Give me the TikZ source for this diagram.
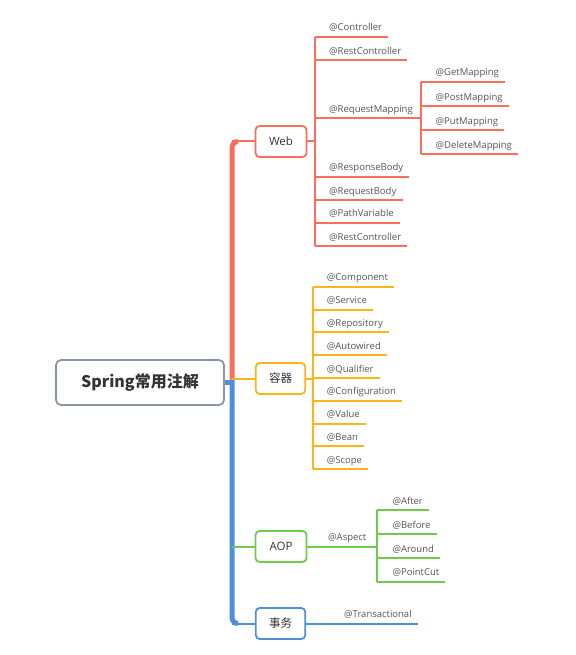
\documentclass[tikz,border=0pt]{standalone}
\usepackage{fontspec}
\setmainfont{Open Sans}
\newfontfamily\cjk{Noto Sans CJK SC}
\usetikzlibrary{calc}
\definecolor{rc}{HTML}{FA6E5A}
\definecolor{oc}{HTML}{FBB41A}
\definecolor{gc}{HTML}{6DCB4E}
\definecolor{bc}{HTML}{4E8FDB}
\definecolor{rootc}{HTML}{8896A8}
\definecolor{labgray}{HTML}{555555}
\definecolor{txt}{HTML}{333333}
\tikzset{
  lab/.style={font=\fontsize{9.5}{11}\selectfont, text=labgray, inner sep=0pt,
    text height=7.2pt, text depth=2.4pt, anchor=south west, xshift=14pt, yshift=3.2pt},
  topic/.style={draw, line width=1.8pt, rounded corners=4pt, fill=white,
    minimum width=50pt, minimum height=31pt, inner sep=0pt, text=txt},
  br/.style={line width=2pt},
  trunk/.style={line width=5pt, rounded corners=6pt},
}
\begin{document}
\begin{tikzpicture}[x=1pt,y=-1pt]
\useasboundingbox (0,0) rectangle (575,655);

% root
\node[draw=rootc, line width=1.8pt, rounded corners=5pt, fill=white,
  minimum width=168pt, minimum height=45pt, inner sep=0pt, text=txt,
  font=\cjk\bfseries\fontsize{16}{18}\selectfont] (root) at (140,382.5) {Spring常用注解};

% main topics
\node[topic, draw=rc, font=\fontsize{11.5}{13}\selectfont, minimum width=51pt] (web) at (281,141.5) {Web};
\node[topic, draw=oc, font=\cjk\fontsize{11.5}{13}\selectfont, minimum width=49.5pt] (rq) at (280.5,378.5) {容器};
\node[topic, draw=gc, font=\fontsize{11.5}{13}\selectfont, minimum width=51pt] (aop) at (281,546.5) {AOP};
\node[topic, draw=bc, font=\cjk\fontsize{11.5}{13}\selectfont, minimum width=49.5pt] (sw) at (280.5,623.5) {事务};

% trunk
\coordinate (tt) at (232,141.5);
\coordinate (tm) at (232,379.5);
\coordinate (tb) at (232,623.5);
\draw[rc, br] (web.west) -- (tt);
\draw[rc, trunk] ($(tt)+(6,0)$) -- (tt) -- (tm);
\draw[bc, br] (sw.west) -- (tb);
\draw[bc, trunk] (tm) -- (tb) -- ($(tb)+(6,0)$);
\draw[bc, line width=5pt] (root.east) -- (root.east -| tm);
\draw[oc, br] (rq.west -| tm) -- (rq.west);
\draw[gc, br] (aop.west -| tm) -- (aop.west);

% Web children
\coordinate (wv) at (315,141.5);
\draw[rc, br] (web.east) -- (wv);
\foreach \i/\y/\t in {1/36.7/Controller, 2/60/RestController, 3/118.3/RequestMapping,
    4/176.7/ResponseBody, 5/200/RequestBody, 6/222.7/PathVariable, 7/246/RestController}{
  \coordinate (w\i) at (315,\y);
  \node[lab] (wl\i) at (w\i) {@\t};
  \draw[rc, br] (w\i) -- ($(w\i -| wl\i.east)+(6,0)$);
}
\draw[rc, br] (w1) -- (w7);
\coordinate (mv) at (421,118.3);
\draw[rc, br] (w3) -- (mv);
\foreach \i/\y/\t in {1/81.7/GetMapping, 2/106/PostMapping, 3/130/PutMapping, 4/154.3/DeleteMapping}{
  \coordinate (m\i) at (421,\y);
  \node[lab, xshift=0.5pt] (ml\i) at (m\i) {@\t};
  \draw[rc, br] (m\i) -- ($(m\i -| ml\i.east)+(6,0)$);
}
\draw[rc, br] (m1) -- (m4);

% container children
\coordinate (cv) at (312.7,378.5);
\draw[oc, br] (rq.east) -- (cv);
\foreach \i/\y/\t in {1/286.7/Component, 2/309.5/Service, 3/332.3/Repository, 4/355.1/Autowired,
    5/377.9/Qualifier, 6/400.7/Configuration, 7/423.5/Value, 8/446.3/Bean, 9/469.1/Scope}{
  \coordinate (c\i) at (312.7,\y);
  \node[lab] (cl\i) at (c\i) {@\t};
  \draw[oc, br] (c\i) -- ($(c\i -| cl\i.east)+(6,0)$);
}
\draw[oc, br] (c1) -- (c9);

% AOP children
\coordinate (a0) at (314,546.5);
\coordinate (av) at (377.3,546.5);
\node[lab] (asp) at (a0) {@Aspect};
\draw[gc, br] (aop.east) -- (av);
\foreach \i/\y/\t in {1/510/After, 2/534/Before, 3/558.3/Around, 4/581.7/PointCut}{
  \coordinate (a\i) at (377.3,\y);
  \node[lab, xshift=1pt] (al\i) at (a\i) {@\t};
  \draw[gc, br] (a\i) -- ($(a\i -| al\i.east)+(6,0)$);
}
\draw[gc, br] (a1) -- (a4);

% transaction child
\coordinate (t0) at (330,623.5);
\node[lab] (tx) at (t0) {@Transactional};
\draw[bc, br] (sw.east) -- ($(t0 -| tx.east)+(6,0)$);
\end{tikzpicture}
\end{document}
